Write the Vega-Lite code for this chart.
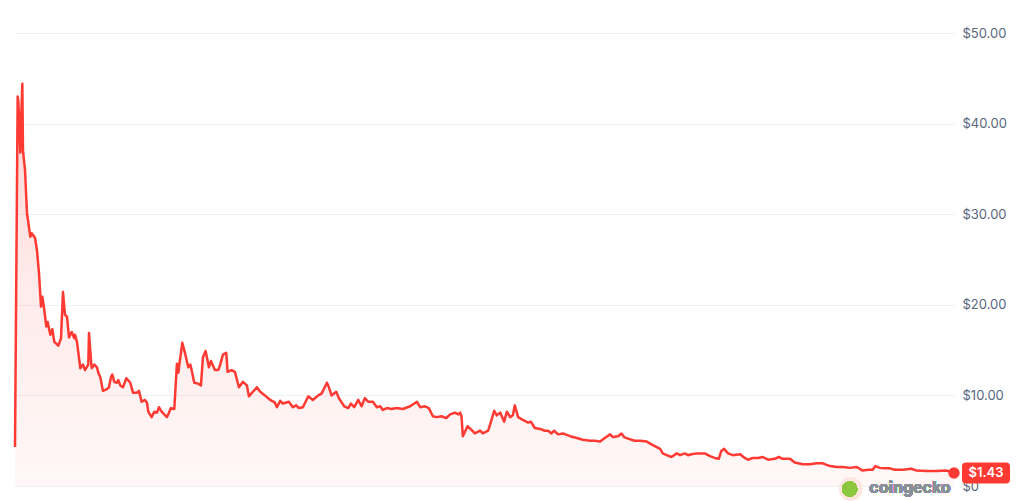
{
  "$schema": "https://vega.github.io/schema/vega-lite/v6.json",
  "description": "Token price history in USD, CoinGecko style area chart.",
  "width": 939,
  "height": 453,
  "autosize": {"type": "none"},
  "padding": {"left": 15, "top": 33, "right": 70, "bottom": 15},
  "background": "#ffffff",
  "data": {
    "values": [
      {"day": 0, "price": 4.3}, {"day": 4, "price": 43.0}, {"day": 5, "price": 42.5}, {"day": 8, "price": 36.8},
      {"day": 9, "price": 40.0}, {"day": 11, "price": 44.4}, {"day": 12, "price": 37.0}, {"day": 15, "price": 34.9},
      {"day": 18, "price": 30.1}, {"day": 23, "price": 27.5}, {"day": 25, "price": 27.9}, {"day": 30, "price": 27.4},
      {"day": 33, "price": 26.0}, {"day": 36, "price": 23.5}, {"day": 39, "price": 19.8}, {"day": 41, "price": 20.9},
      {"day": 44, "price": 19.4}, {"day": 47, "price": 17.6}, {"day": 49, "price": 18.1}, {"day": 53, "price": 16.7},
      {"day": 56, "price": 17.3}, {"day": 59, "price": 15.9}, {"day": 65, "price": 15.5}, {"day": 69, "price": 16.3},
      {"day": 72, "price": 21.4}, {"day": 75, "price": 18.9}, {"day": 78, "price": 18.7}, {"day": 81, "price": 16.4},
      {"day": 85, "price": 17.0}, {"day": 89, "price": 16.3}, {"day": 90, "price": 16.7}, {"day": 93, "price": 15.9},
      {"day": 98, "price": 13.0}, {"day": 102, "price": 13.4}, {"day": 105, "price": 12.8}, {"day": 110, "price": 13.4},
      {"day": 111, "price": 16.9}, {"day": 115, "price": 13.0}, {"day": 119, "price": 13.4}, {"day": 123, "price": 13.1},
      {"day": 125, "price": 12.5}, {"day": 128, "price": 12.0}, {"day": 132, "price": 10.5}, {"day": 138, "price": 10.7},
      {"day": 141, "price": 10.9}, {"day": 144, "price": 12.0}, {"day": 146, "price": 12.3}, {"day": 149, "price": 11.5},
      {"day": 153, "price": 11.4}, {"day": 155, "price": 11.7}, {"day": 158, "price": 11.1}, {"day": 162, "price": 10.9},
      {"day": 167, "price": 11.9}, {"day": 173, "price": 11.4}, {"day": 177, "price": 10.3}, {"day": 183, "price": 10.3},
      {"day": 186, "price": 10.5}, {"day": 190, "price": 9.3}, {"day": 195, "price": 9.5}, {"day": 198, "price": 9.2},
      {"day": 200, "price": 8.2}, {"day": 205, "price": 7.6}, {"day": 209, "price": 8.2}, {"day": 213, "price": 8.1},
      {"day": 216, "price": 8.7}, {"day": 220, "price": 8.2}, {"day": 228, "price": 7.6}, {"day": 234, "price": 8.6},
      {"day": 239, "price": 8.5}, {"day": 243, "price": 13.5}, {"day": 245, "price": 12.5}, {"day": 251, "price": 15.8},
      {"day": 255, "price": 14.7}, {"day": 260, "price": 13.1}, {"day": 263, "price": 13.4}, {"day": 265, "price": 12.8},
      {"day": 269, "price": 11.4}, {"day": 275, "price": 11.3}, {"day": 279, "price": 11.1}, {"day": 282, "price": 14.2},
      {"day": 286, "price": 14.9}, {"day": 291, "price": 13.1}, {"day": 294, "price": 13.8}, {"day": 300, "price": 12.8},
      {"day": 305, "price": 12.8}, {"day": 308, "price": 13.4}, {"day": 312, "price": 14.5}, {"day": 317, "price": 14.7},
      {"day": 319, "price": 12.6}, {"day": 325, "price": 12.8}, {"day": 330, "price": 12.6}, {"day": 336, "price": 10.9},
      {"day": 342, "price": 11.5}, {"day": 348, "price": 11.1}, {"day": 351, "price": 9.9}, {"day": 357, "price": 10.4},
      {"day": 363, "price": 10.9}, {"day": 368, "price": 10.4}, {"day": 375, "price": 10.0}, {"day": 383, "price": 9.5},
      {"day": 390, "price": 9.2}, {"day": 393, "price": 8.7}, {"day": 398, "price": 9.4}, {"day": 402, "price": 9.1},
      {"day": 411, "price": 9.3}, {"day": 417, "price": 8.7}, {"day": 422, "price": 8.9}, {"day": 426, "price": 8.6},
      {"day": 432, "price": 8.7}, {"day": 440, "price": 9.9}, {"day": 447, "price": 9.5}, {"day": 455, "price": 10.0},
      {"day": 460, "price": 10.2}, {"day": 468, "price": 11.4}, {"day": 470, "price": 11.1}, {"day": 475, "price": 10.0},
      {"day": 482, "price": 10.4}, {"day": 486, "price": 9.7}, {"day": 494, "price": 8.8}, {"day": 500, "price": 8.6},
      {"day": 504, "price": 9.1}, {"day": 509, "price": 8.7}, {"day": 515, "price": 9.5}, {"day": 520, "price": 8.8},
      {"day": 525, "price": 9.7}, {"day": 530, "price": 9.3}, {"day": 537, "price": 9.3}, {"day": 543, "price": 8.7},
      {"day": 548, "price": 8.8}, {"day": 552, "price": 8.4}, {"day": 558, "price": 8.6}, {"day": 565, "price": 8.5},
      {"day": 573, "price": 8.6}, {"day": 582, "price": 8.5}, {"day": 593, "price": 8.8}, {"day": 603, "price": 9.3},
      {"day": 608, "price": 8.7}, {"day": 615, "price": 8.8}, {"day": 621, "price": 8.6}, {"day": 627, "price": 7.7},
      {"day": 633, "price": 7.6}, {"day": 640, "price": 7.7}, {"day": 647, "price": 7.5}, {"day": 653, "price": 7.9},
      {"day": 660, "price": 8.1}, {"day": 665, "price": 7.9}, {"day": 668, "price": 8.1}, {"day": 670, "price": 7.7},
      {"day": 672, "price": 5.5}, {"day": 679, "price": 6.6}, {"day": 685, "price": 6.2}, {"day": 690, "price": 5.8},
      {"day": 698, "price": 6.1}, {"day": 702, "price": 5.8}, {"day": 710, "price": 6.1}, {"day": 715, "price": 7.3},
      {"day": 719, "price": 8.3}, {"day": 723, "price": 7.8}, {"day": 728, "price": 8.1}, {"day": 734, "price": 7.1},
      {"day": 738, "price": 8.2}, {"day": 743, "price": 7.6}, {"day": 747, "price": 7.8}, {"day": 750, "price": 8.9},
      {"day": 755, "price": 7.6}, {"day": 762, "price": 7.3}, {"day": 770, "price": 7.0}, {"day": 774, "price": 7.1},
      {"day": 780, "price": 6.4}, {"day": 788, "price": 6.3}, {"day": 795, "price": 6.1}, {"day": 800, "price": 6.1},
      {"day": 805, "price": 5.8}, {"day": 809, "price": 6.1}, {"day": 815, "price": 5.7}, {"day": 822, "price": 5.8},
      {"day": 833, "price": 5.5}, {"day": 843, "price": 5.3}, {"day": 852, "price": 5.1}, {"day": 863, "price": 5.0},
      {"day": 870, "price": 5.0}, {"day": 878, "price": 4.9}, {"day": 885, "price": 5.3}, {"day": 893, "price": 5.7},
      {"day": 897, "price": 5.4}, {"day": 905, "price": 5.5}, {"day": 910, "price": 5.8}, {"day": 914, "price": 5.4},
      {"day": 921, "price": 5.2}, {"day": 930, "price": 5.0}, {"day": 938, "price": 5.0}, {"day": 948, "price": 4.9},
      {"day": 955, "price": 4.6}, {"day": 963, "price": 4.3}, {"day": 968, "price": 4.1}, {"day": 972, "price": 3.6},
      {"day": 978, "price": 3.4}, {"day": 985, "price": 3.2}, {"day": 993, "price": 3.6}, {"day": 998, "price": 3.4},
      {"day": 1005, "price": 3.6}, {"day": 1010, "price": 3.4}, {"day": 1015, "price": 3.5}, {"day": 1023, "price": 3.6},
      {"day": 1028, "price": 3.6}, {"day": 1035, "price": 3.6}, {"day": 1043, "price": 3.3}, {"day": 1050, "price": 3.1},
      {"day": 1056, "price": 3.0}, {"day": 1060, "price": 3.9}, {"day": 1064, "price": 4.1}, {"day": 1070, "price": 3.6},
      {"day": 1077, "price": 3.4}, {"day": 1088, "price": 3.5}, {"day": 1095, "price": 3.1}, {"day": 1100, "price": 2.9},
      {"day": 1107, "price": 3.1}, {"day": 1115, "price": 3.1}, {"day": 1122, "price": 3.2}, {"day": 1130, "price": 2.9},
      {"day": 1140, "price": 3.0}, {"day": 1146, "price": 3.2}, {"day": 1152, "price": 3.0}, {"day": 1163, "price": 3.0},
      {"day": 1170, "price": 2.6}, {"day": 1182, "price": 2.4}, {"day": 1193, "price": 2.4}, {"day": 1203, "price": 2.5},
      {"day": 1212, "price": 2.5}, {"day": 1223, "price": 2.2}, {"day": 1233, "price": 2.1}, {"day": 1242, "price": 2.1},
      {"day": 1253, "price": 2.0}, {"day": 1263, "price": 2.1}, {"day": 1272, "price": 1.7}, {"day": 1280, "price": 1.8},
      {"day": 1287, "price": 1.8}, {"day": 1291, "price": 2.2}, {"day": 1298, "price": 2.0}, {"day": 1305, "price": 1.95},
      {"day": 1313, "price": 1.95}, {"day": 1320, "price": 1.8}, {"day": 1332, "price": 1.8}, {"day": 1345, "price": 1.9},
      {"day": 1353, "price": 1.7}, {"day": 1368, "price": 1.65}, {"day": 1383, "price": 1.65}, {"day": 1398, "price": 1.7},
      {"day": 1409, "price": 1.43}
    ]
  },
  "encoding": {
    "x": {"field": "day", "type": "quantitative", "scale": {"domain": [0, 1409], "nice": false, "zero": false}, "axis": null},
    "y": {
      "field": "price",
      "type": "quantitative",
      "scale": {"domain": [0, 50], "nice": false},
      "axis": {
        "orient": "right",
        "values": [0, 10, 20, 30, 40, 50],
        "title": null,
        "domain": false,
        "ticks": false,
        "grid": true,
        "gridColor": "#eff2f5",
        "gridWidth": 1,
        "labelPadding": 8,
        "labelFont": "Inter",
        "labelFontSize": 13,
        "labelColor": "#58667e",
        "labelExpr": "datum.value == 0 ? '$0' : '$' + format(datum.value, '.2f')"
      }
    }
  },
  "layer": [
    {
      "mark": {
        "type": "area",
        "interpolate": "linear",
        "color": {
          "gradient": "linear",
          "x1": 0, "y1": 0, "x2": 0, "y2": 1,
          "stops": [
            {"offset": 0, "color": "rgba(255,58,51,0.22)"},
            {"offset": 0.5, "color": "rgba(255,58,51,0.10)"},
            {"offset": 1, "color": "rgba(255,58,51,0.04)"}
          ]
        }
      }
    },
    {
      "mark": {"type": "line", "color": "#ff3a33", "strokeWidth": 2.5, "strokeJoin": "round"}
    },
    {
      "transform": [{"filter": "datum.day == 1409"}],
      "layer": [
        {"mark": {"type": "point", "filled": true, "color": "#ff3a33", "size": 130, "opacity": 1}},
        {
          "mark": {
            "type": "point",
            "filled": true,
            "color": "#ff3a33",
            "opacity": 1,
            "size": 2304,
            "xOffset": 32,
            "shape": "M-0.83,-0.44 L0.83,-0.44 Q1,-0.44 1,-0.27 L1,0.27 Q1,0.44 0.83,0.44 L-0.83,0.44 Q-1,0.44 -1,0.27 L-1,-0.27 Q-1,-0.44 -0.83,-0.44 Z"
          }
        },
        {
          "mark": {"type": "text", "xOffset": 32, "color": "#ffffff", "font": "Inter", "fontSize": 13, "fontWeight": 600, "align": "center", "baseline": "middle"},
          "encoding": {"text": {"value": "$1.43"}}
        }
      ]
    },
    {
      "mark": {"type": "point", "filled": true, "color": "#fde6e0", "opacity": 1, "size": 520, "yOffset": 3},
      "encoding": {"x": {"datum": 1254}, "y": {"datum": 0}}
    },
    {
      "mark": {"type": "point", "filled": true, "color": "#8dc63f", "opacity": 1, "size": 230, "yOffset": 3, "xOffset": -1},
      "encoding": {"x": {"datum": 1254}, "y": {"datum": 0}}
    },
    {
      "mark": {"type": "text", "color": "#8a909a", "font": "Inter", "fontSize": 16, "fontWeight": "bold", "align": "center", "baseline": "middle", "yOffset": 2},
      "encoding": {"x": {"datum": 1343}, "y": {"datum": 0}, "text": {"value": "coingecko"}}
    }
  ],
  "config": {
    "view": {"stroke": null}
  }
}
